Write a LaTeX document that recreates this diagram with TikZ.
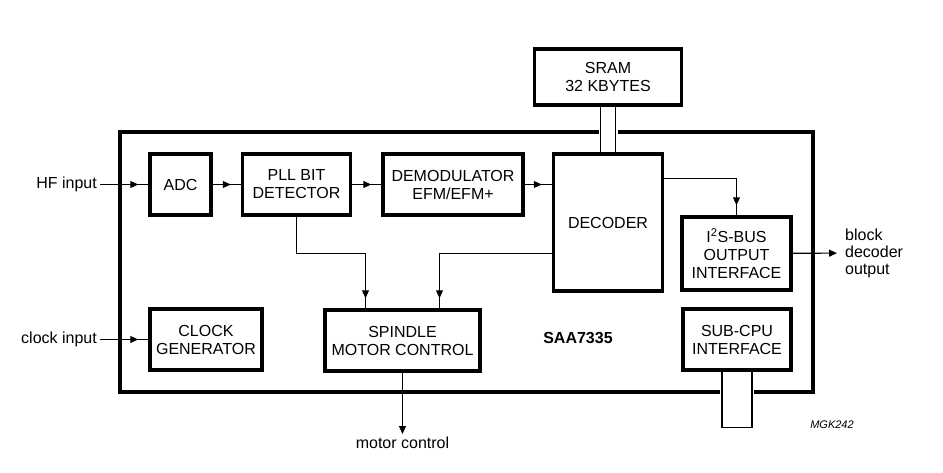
\documentclass[tikz,border=0pt]{standalone}
\usepackage{fontspec}
\setmainfont{Liberation Sans}
\usetikzlibrary{arrows.meta, positioning, calc, decorations.markings}
\tikzset{
    chipbox/.style ={rectangle, draw=black, line width=3.5pt},
    blockbox/.style={rectangle, draw=black, line width=3.5pt, align=center, inner sep=2pt},
    flowarrow/.style={line width=1.1pt, postaction={decorate},
        decoration={markings, mark=at position -10pt with {\arrow{Triangle[length=8pt,width=7pt]}}}},
    endarrow/.style ={line width=1.1pt, -{Triangle[length=8pt,width=7pt]}},
    busline/.style  ={line width=1.1pt},
}
\begin{document}
\begin{tikzpicture}[x=1pt, y=-1pt, font=\fontsize{16}{18}\selectfont]
\useasboundingbox (0,0) rectangle (943,472);
% chip outline
\node[chipbox, minimum width=693pt, minimum height=260pt] (chip) at (466.5,262) {};
% blocks
\node[blockbox, minimum width=61pt, minimum height=61pt] (adc) at (180.5,184.5) {ADC};
\node[blockbox, minimum width=108pt, minimum height=61pt, right=28pt of adc] (pll) {PLL BIT\\DETECTOR};
\node[blockbox, minimum width=140pt, minimum height=61pt, right=29pt of pll] (demod) {DEMODULATOR\\EFM/EFM+};
\node[blockbox, minimum width=109pt, minimum height=137pt] (decoder) at (608,222.5) {DECODER};
\node[blockbox, minimum width=109pt, minimum height=73pt] (i2s) at (736.5,253.5) {I\textsuperscript{2}S-BUS\\OUTPUT\\INTERFACE};
\node[blockbox, minimum width=112pt, minimum height=61pt] (clock) at (206,339.5) {CLOCK\\GENERATOR};
\node[blockbox, minimum width=155pt, minimum height=61pt] (spindle) at (402.5,340.5) {SPINDLE\\MOTOR CONTROL};
\node[blockbox, minimum width=108pt, minimum height=61pt] (subcpu) at (737,339.5) {SUB-CPU\\INTERFACE};
\node[blockbox, minimum width=147pt, minimum height=56pt] (sram) at (608,77) {SRAM\\32 KBYTES};
% labels
\node[anchor=east, inner sep=3pt] (hfin) at (100,184.5) {HF input};
\node[anchor=east, inner sep=3pt] (clkin) at (100,339.5) {clock input};
\node[anchor=west, align=left, inner xsep=8pt, inner ysep=2pt, font=\fontsize{16}{17}\selectfont] (blkout) at (837,253) {block\\decoder\\output};
\node[anchor=north, inner ysep=3pt] (motor) at (402.5,434) {motor control};
\node[font=\fontsize{16}{18}\selectfont\bfseries] (chipname) at (578,338) {SAA7335};
\node[font=\fontsize{11}{13}\selectfont\itshape] (code) at (832,425) {MGK242};
% signal flow
\draw[flowarrow] (hfin) -- (adc);
\draw[flowarrow] (adc) -- (pll);
\draw[flowarrow] (pll) -- (demod);
\draw[flowarrow] (demod.east) -- (demod.east -| decoder.west);
\draw[flowarrow] ([yshift=-26pt]decoder.north east) -| (i2s.north);
\draw[endarrow] (i2s) -- (blkout);
\draw[flowarrow] (clkin) -- (clock);
\coordinate (tap) at ([yshift=55pt]spindle.north);
\draw[flowarrow] (pll.south) |- ([xshift=-37pt]tap) -- ([xshift=-37pt]spindle.north);
\draw[flowarrow] (decoder.west |- tap) -| ([xshift=37pt]spindle.north);
\draw[endarrow] (spindle) -- (motor);
% SRAM bus
\fill[white] ([xshift=-9.5pt]sram.south) rectangle ([xshift=9.5pt]decoder.north);
\draw[busline] ([xshift=-7.5pt]sram.south) -- ([xshift=-7.5pt]decoder.north);
\draw[busline] ([xshift=7.5pt]sram.south) -- ([xshift=7.5pt]decoder.north);
% sub-CPU bus
\fill[white] ([xshift=-17pt]subcpu.south) rectangle ([xshift=17pt,yshift=-30pt]subcpu.south);
\coordinate (cpubus) at ([yshift=-56pt]subcpu.south);
\draw[busline] ([xshift=-15pt]subcpu.south) -- ([xshift=-15pt]cpubus) -- ([xshift=15pt]cpubus) -- ([xshift=15pt]subcpu.south);
\end{tikzpicture}
\end{document}
